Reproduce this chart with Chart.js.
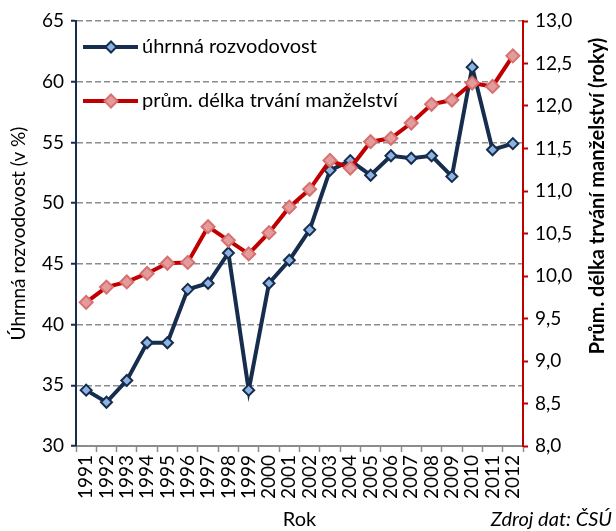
<!DOCTYPE html>
<html>
<head>
<meta charset="utf-8">
<script src="https://cdn.jsdelivr.net/npm/chart.js@4"></script>
<style>
  html, body { margin: 0; padding: 0; background: #fff; }
  #c { display: block; }
</style>
</head>
<body>
<canvas id="c" width="616" height="531"></canvas>
<script>
const years = ['1991','1992','1993','1994','1995','1996','1997','1998','1999','2000','2001','2002','2003','2004','2005','2006','2007','2008','2009','2010','2011','2012'];
const divorceRate = [34.6, 33.6, 35.4, 38.5, 38.5, 42.9, 43.4, 45.9, 34.6, 43.4, 45.3, 47.8, 52.7, 53.5, 52.3, 53.9, 53.7, 53.9, 52.2, 61.2, 54.4, 54.9];
const marriageDuration = [9.69, 9.87, 9.93, 10.03, 10.15, 10.16, 10.58, 10.42, 10.26, 10.51, 10.81, 11.02, 11.36, 11.27, 11.58, 11.62, 11.80, 12.02, 12.07, 12.27, 12.23, 12.59];
const seriesNames = ['úhrnná rozvodovost', 'prům. délka trvání manželství'];
const leftTitle = 'Úhrnná rozvodovost (v %)';
const rightTitle = 'Prům. délka trvání manželství (roky)';
const xTitle = 'Rok';
const sourceNote = 'Zdroj dat: ČSÚ';

const FONT = 'Lato, "Open Sans", sans-serif';
const NAVY = '#172D4D';
const RED = '#C00000';
const GRAY = '#8C8C8C';

const textPlugin = {
  id: 'texts',
  afterDraw(chart) {
    const ctx = chart.ctx;
    const a = chart.chartArea;
    ctx.save();
    ctx.fillStyle = '#000';
    // left title
    ctx.save();
    ctx.translate(19, (a.top + a.bottom) / 2);
    ctx.rotate(-Math.PI / 2);
    ctx.font = '19px ' + FONT;
    ctx.textAlign = 'center';
    ctx.textBaseline = 'middle';
    ctx.fillText(leftTitle, 0, 0);
    ctx.restore();
    // right title
    ctx.save();
    ctx.translate(598, 196);
    ctx.rotate(-Math.PI / 2);
    ctx.font = 'bold 20px ' + FONT;
    ctx.textAlign = 'center';
    ctx.textBaseline = 'middle';
    ctx.fillText(rightTitle, 0, 0);
    ctx.restore();
    // x title
    ctx.font = '20px ' + FONT;
    ctx.textAlign = 'center';
    ctx.textBaseline = 'middle';
    ctx.fillText(xTitle, (a.left + a.right) / 2, 520);
    // source
    ctx.font = 'italic 20px ' + FONT;
    ctx.textAlign = 'right';
    ctx.fillText(sourceNote, 612, 520);
    ctx.restore();
  },
  afterDatasetsDraw(chart) {
    const ctx = chart.ctx;
    const ys = [47, 101];
    chart.data.datasets.forEach((ds, i) => {
      const y = ys[i];
      ctx.save();
      ctx.strokeStyle = ds.borderColor;
      ctx.lineWidth = ds.borderWidth;
      ctx.beginPath();
      ctx.moveTo(83, y);
      ctx.lineTo(138, y);
      ctx.stroke();
      const r = ds.pointRadius;
      ctx.beginPath();
      ctx.moveTo(111, y - r);
      ctx.lineTo(111 + r, y);
      ctx.lineTo(111, y + r);
      ctx.lineTo(111 - r, y);
      ctx.closePath();
      ctx.fillStyle = ds.pointBackgroundColor;
      ctx.fill();
      ctx.lineWidth = ds.pointBorderWidth;
      ctx.strokeStyle = ds.pointBorderColor;
      ctx.stroke();
      ctx.fillStyle = '#000';
      ctx.font = '20px ' + FONT;
      ctx.textAlign = 'left';
      ctx.textBaseline = 'middle';
      ctx.fillText(ds.label, 142, y);
      ctx.restore();
    });
  }
};

new Chart(document.getElementById('c'), {
  type: 'line',
  data: {
    labels: years,
    datasets: [
      {
        label: seriesNames[0],
        data: divorceRate,
        yAxisID: 'y',
        borderColor: NAVY,
        borderWidth: 4,
        pointStyle: 'rectRot',
        pointRadius: 5.5,
        pointBackgroundColor: '#8DB3E2',
        pointBorderColor: NAVY,
        pointBorderWidth: 2,
        tension: 0,
        order: 1
      },
      {
        label: seriesNames[1],
        data: marriageDuration,
        yAxisID: 'y2',
        borderColor: RED,
        borderWidth: 4,
        pointStyle: 'rectRot',
        pointRadius: 6.5,
        pointBackgroundColor: '#E39C9B',
        pointBorderColor: '#D77070',
        pointBorderWidth: 2,
        tension: 0,
        order: 0
      }
    ]
  },
  options: {
    responsive: false,
    devicePixelRatio: 1,
    animation: false,
    layout: { padding: { top: 21, left: 0, right: 0, bottom: 0 } },
    plugins: { legend: { display: false }, tooltip: { enabled: false } },
    scales: {
      x: {
        type: 'category',
        offset: true,
        afterFit(s) { s.height = 85; },
        grid: { offset: true, drawOnChartArea: false, tickLength: 6, tickColor: GRAY, tickWidth: 1.5 },
        border: { color: GRAY, width: 2 },
        ticks: { autoSkip: false, maxRotation: 90, minRotation: 90, padding: 3, color: '#000', font: { family: FONT, size: 19 } }
      },
      y: {
        position: 'left',
        min: 30, max: 65,
        afterFit(s) { s.width = 76; },
        ticks: { stepSize: 5, padding: 7, color: '#000', font: { family: FONT, size: 19 } },
        grid: {
          color: (c) => (c.tick && c.tick.value === 30) ? 'rgba(0,0,0,0)' : GRAY,
          lineWidth: 1.5,
          tickColor: NAVY, tickLength: 5, tickWidth: 2, tickBorderDash: []
        },
        border: { color: NAVY, width: 2, dash: [6, 3] }
      },
      y2: {
        position: 'right',
        min: 8, max: 13,
        afterFit(s) { s.width = 93; },
        ticks: { stepSize: 0.5, padding: 7, color: '#000', font: { family: FONT, size: 19 },
          callback: (v) => Number(v).toFixed(1).replace('.', ',') },
        grid: { drawOnChartArea: false, tickColor: RED, tickLength: 5, tickWidth: 2 },
        border: { color: RED, width: 2 }
      }
    }
  },
  plugins: [textPlugin]
});
</script>
</body>
</html>
